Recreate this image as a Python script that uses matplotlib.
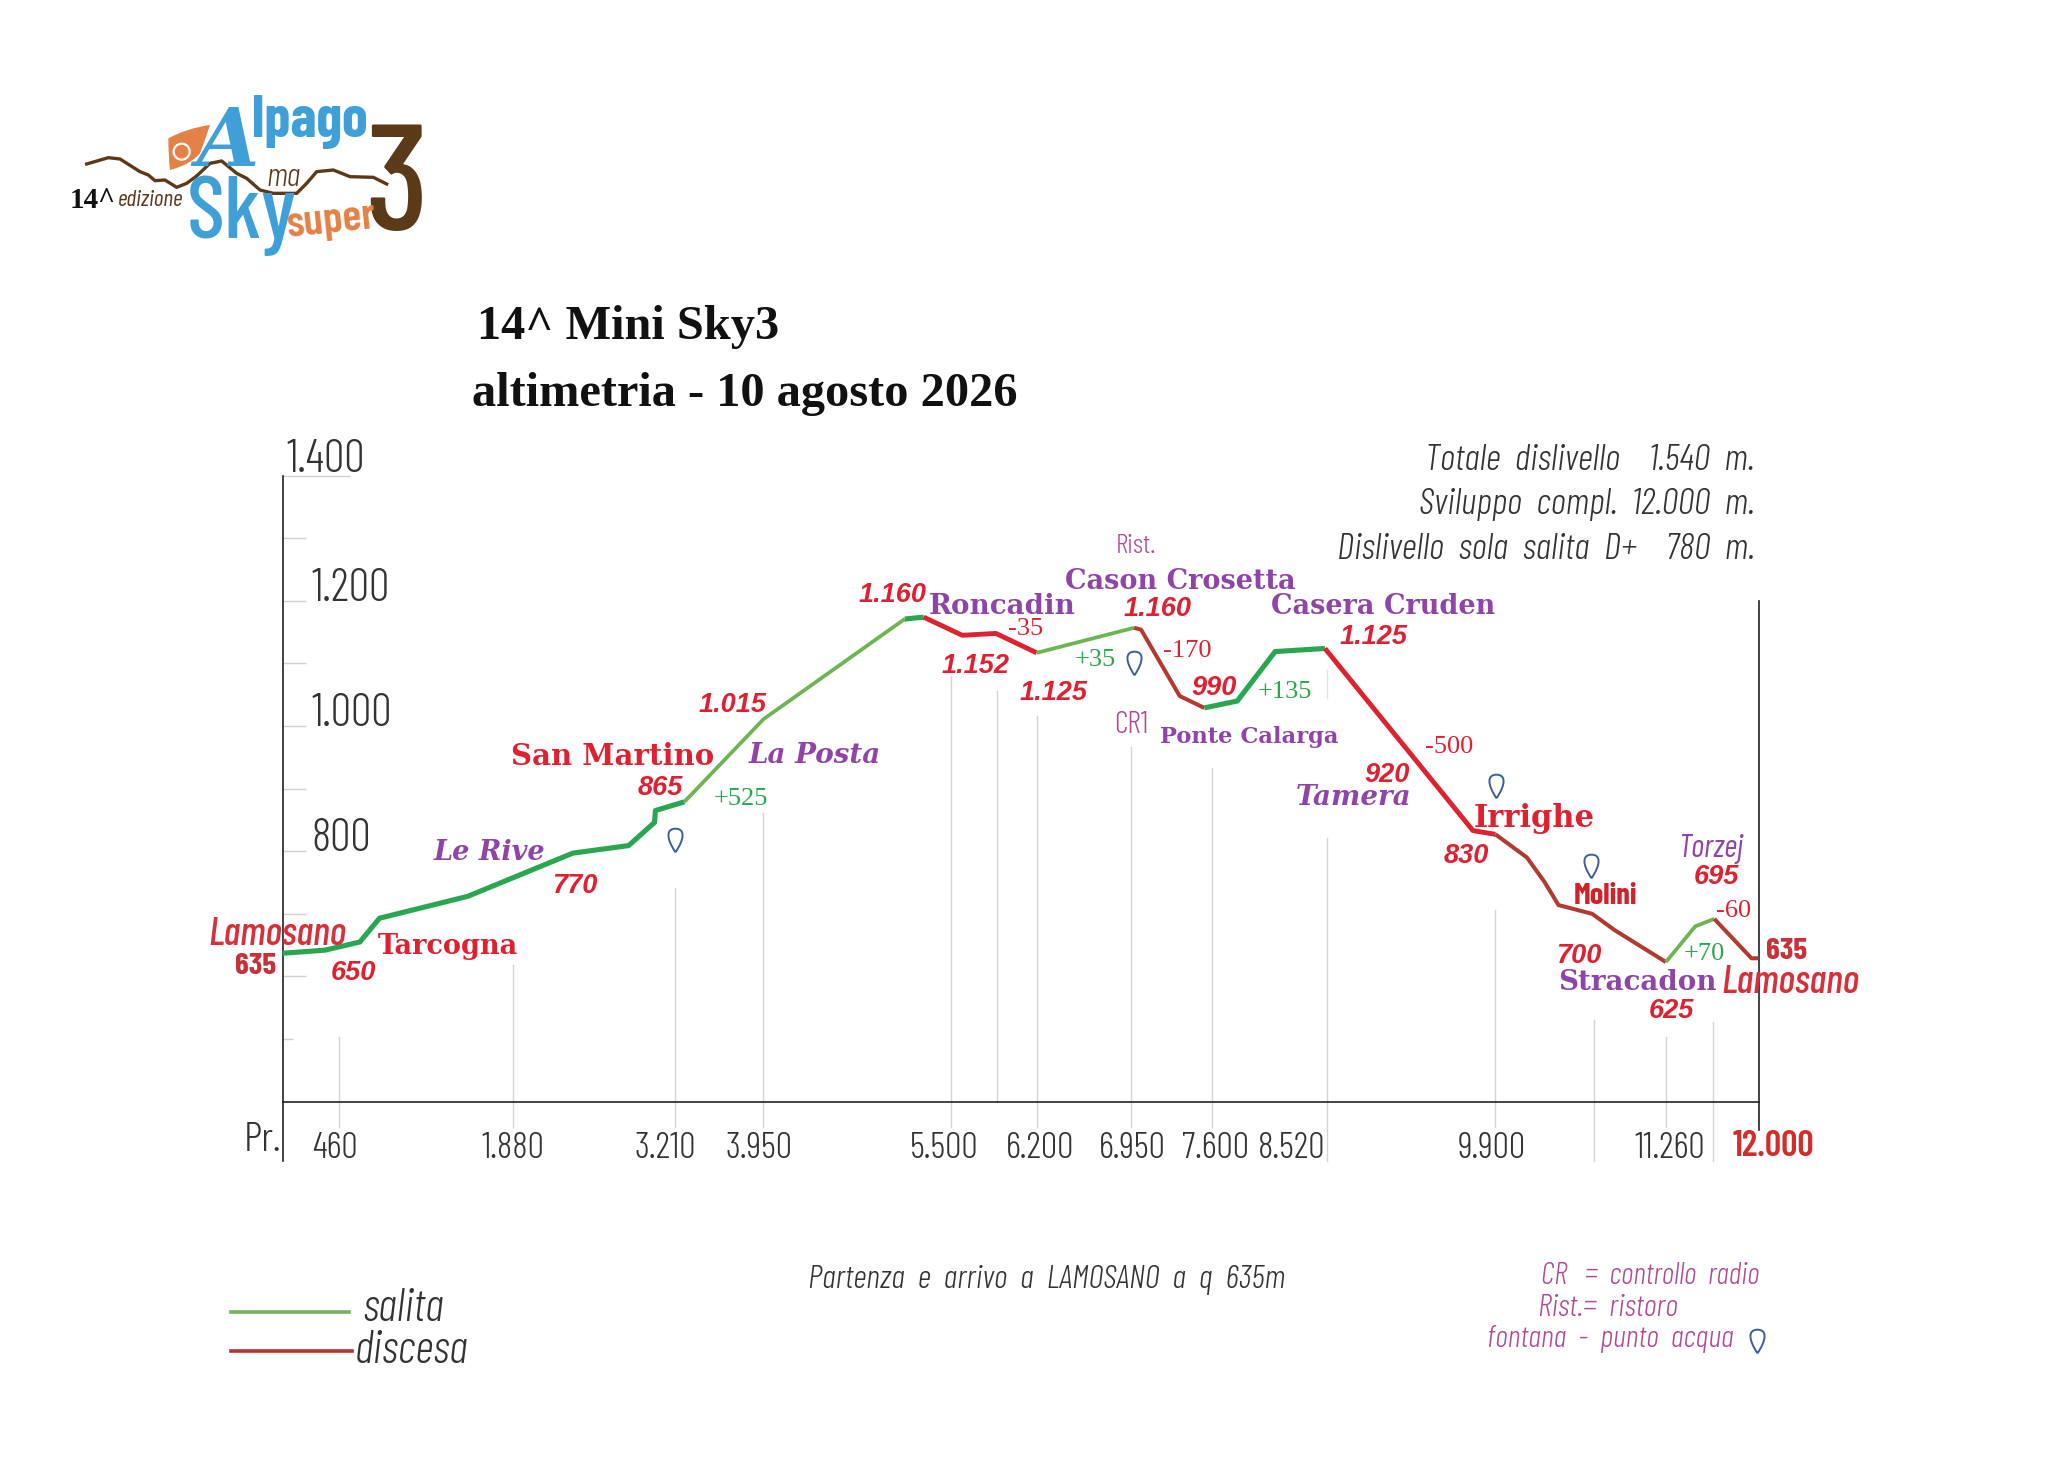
import matplotlib
matplotlib.use("Agg")
import matplotlib.pyplot as plt
from matplotlib.transforms import Affine2D
from matplotlib.path import Path
from matplotlib.patches import PathPatch, Circle

W, H = 2067, 1457
S = W / 1568
NARROW = ["Barlow Condensed", "Open Sans", "DejaVu Sans"]
SERIF = "DejaVu Serif"
TITLE = "Liberation Serif"

# ---------- data ----------
distance = [0, 345, 628, 788, 1506, 2360, 2813, 3024, 3031, 3267, 3910, 5058, 5212, 5526, 5800, 6131,
            6923, 6980, 7294, 7494, 7762, 8070, 8475, 9678, 9861, 10117, 10260, 10374, 10648, 10830,
            11247, 11486, 11640, 11943, 12000]
elevation = [637, 642, 655, 693, 728, 797, 809, 846, 865, 879, 1011, 1171, 1174, 1145, 1148, 1117,
             1157, 1154, 1048, 1029, 1040, 1119, 1124, 833, 827, 790, 751, 714, 700, 674,
             623, 680, 692, 629, 629]
# (start index, end index, style)
runs = [(0, 9, "up_strong"), (9, 11, "up_light"), (11, 12, "up_strong"), (12, 15, "down_strong"),
        (15, 16, "up_light"), (16, 19, "down_dark"), (19, 22, "up_strong"), (22, 24, "down_strong"),
        (24, 30, "down_dark"), (30, 32, "up_light"), (32, 34, "down_dark")]
styles = {"up_strong": ("#2BA650", 3.7), "up_light": ("#6DB552", 2.7),
          "down_strong": ("#DD2230", 3.5), "down_dark": ("#B23A33", 2.9)}

guide_x = [461, 1870, 3194, 3910, 5435, 5806, 6131, 6895, 7557, 8492, 9861, 10659, 11247, 11634]
guide_top = [503, 619, 742, 861, 1080, 1056, 1016, 966, 933, 821, 706, 531, 503, 527]
guide_bottom = [360, 360, 360, 360, 360, 400, 360, 360, 360, 305, 360, 305, 360, 305]

ytick_vals = [400, 500, 600, 700, 800, 900, 1000, 1100, 1200, 1300, 1400]
ylabels = {800: "800", 1000: "1.000", 1200: "1.200", 1400: "1.400"}
xtick_pos = [425, 1872, 3115, 3876, 5376, 6158, 6909, 7584, 8206, 9835, 11282]
xtick_labels = ["460", "1.880", "3.210", "3.950", "5.500", "6.200", "6.950", "7.600", "8.520", "9.900", "11.260"]
xlast_label = "12.000"

red, purple, pink, green = "#DF2030", "#8E44A8", "#B04A94", "#2BA650"

values = [("650", 268, 736), ("770", 436, 670), ("865", 501, 596), ("1.015", 556, 533), ("1.160", 677, 449),
          ("1.152", 740, 503), ("1.125", 799, 524), ("1.160", 878, 460), ("990", 921, 520), ("1.125", 1042, 481),
          ("920", 1052, 586), ("830", 1112, 647), ("700", 1198, 723), ("625", 1268, 765), ("695", 1302, 663)]
deltas = [("+525", 562, 604, green), ("-35", 778, 475, red), ("+35", 831, 499, green), ("-170", 901, 492, red),
          ("+135", 975, 523, green), ("-500", 1099, 565, red), ("-60", 1315, 689, red), ("+70", 1293, 722, green)]
places = [("San Martino", 465, 572, red, "normal", 21), ("Tarcogna", 340, 716, red, "normal", 19.5),
          ("Irrighe", 1164, 619, red, "normal", 22),
          ("Le Rive", 371, 645, purple, "italic", 19.5), ("La Posta", 618, 571, purple, "italic", 20),
          ("Tamera", 1027, 603, purple, "italic", 20),
          ("Roncadin", 760, 458, purple, "normal", 20), ("Cason Crosetta", 895, 439, purple, "normal", 19.5),
          ("Casera Cruden", 1049, 458, purple, "normal", 19.5), ("Ponte Calarga", 948, 557, purple, "normal", 16.3),
          ("Stracadon", 1242, 743, purple, "normal", 20)]
pins_x = [512, 860, 1135, 1207, 1333]
pins_y = [637, 503, 596, 657, 1017]

# ---------- figure ----------
fig = plt.figure(figsize=(W / 100, H / 100), dpi=100, facecolor="white")
x0, x1, ytop, ybot = 282.6, 1758.5, 475.7, 1101.6
ax = fig.add_axes([x0 / W, 1 - ybot / H, (x1 - x0) / W, (ybot - ytop) / H])
ax.patch.set_alpha(0)
for s in ("top", "right"):
    ax.spines[s].set_visible(False)
for s in ("left", "bottom"):
    ax.spines[s].set_color("#222222")
    ax.spines[s].set_linewidth(1.2)

PX = Affine2D().scale(S, -S).translate(0, H)      # preview-scale coordinates
LG = Affine2D().scale(1 / 3, -1 / 3).translate(40, H - 60)  # logo crop coordinates


def T(x, y, s, size, color="#222222", family=NARROW, ha="center", va="center", tr=PX, **kw):
    if family is NARROW:
        kw.setdefault("fontweight", 300)
    if tr is PX:
        y = y + 2
    return fig.text(x, y, s, fontsize=size, color=color, family=family, ha=ha, va=va, transform=tr, **kw)


# guides
for gx, t, b in zip(guide_x, guide_top, guide_bottom):
    ax.plot([gx, gx], [b, t], color="#D4D4D4", lw=1.0, clip_on=False, zorder=1)
ax.plot([0, 0], [305, 400], color="#222222", lw=1.2, clip_on=False)
ax.plot([12000, 12000], [355, 1200], color="#222222", lw=1.2, clip_on=False, zorder=2)
ax.plot([8492, 8492], [1045, 1090], color="#E4E4E4", lw=1.0)

# y ticks
ax.set_yticks(ytick_vals)
ax.set_yticklabels([])
ax.tick_params(axis="y", direction="in", length=16.5, color="#D0D0D0", width=1)
for v, tick in zip(ytick_vals, ax.yaxis.get_major_ticks()):
    if v == 500:
        tick.tick1line.set_markersize(7)
    if v == 1400:
        tick.tick1line.set_markersize(48)
    if v == 400:
        tick.tick1line.set_markersize(0)
for v, lab in ylabels.items():
    xx, yy = (4, -5) if v == 1400 else (29, -9)
    ax.annotate(lab, (0, v), xytext=(xx, yy), textcoords="offset pixels", fontsize=33, family=NARROW,
                color="#333333", va="bottom", ha="left", fontweight=300)

# x ticks
ax.set_xticks(xtick_pos, xtick_labels, family=NARROW, fontsize=26.5, color="#333333", fontweight=300)
ax.tick_params(axis="x", length=0, pad=22)
ax.set_xlim(0, 12000)
ax.set_ylim(400, 1400)
T(1345, 868, xlast_label, 26, "#D42B2B", NARROW, fontweight=600)

# profile
for a, b, st in runs:
    c, lw = styles[st]
    ax.plot(distance[a:b + 1], elevation[a:b + 1], color=c, lw=lw, solid_capstyle="butt",
            solid_joinstyle="round", clip_on=False, zorder=4)

# labels
for s, x, y in values:
    T(x, y, s, 19.5, red, "Liberation Sans", fontweight="bold", fontstyle="italic")
for s, x, y, c in deltas:
    T(x, y, s, 19, c, TITLE)
for s, x, y, c, st, sz in places:
    T(x, y, s, sz, c, SERIF, fontweight="bold", fontstyle=st)
T(210, 707, "Lamosano", 28.5, "#D8303A", NARROW, fontstyle="italic", fontweight=500)
T(1358, 744, "Lamosano", 28.5, "#D8303A", NARROW, fontstyle="italic", fontweight=500)
T(194, 731, "635", 22.5, "#C8303A", NARROW, fontweight=700)
T(1355, 720, "635", 22.5, "#C8303A", NARROW, fontweight=700)
T(1218, 678, "Molini", 22, "#D42028", NARROW, fontweight=700)
T(1298, 642, "Torzej", 23, purple, NARROW, fontstyle="italic", fontweight=400)
T(862, 412, "Rist.", 20, pink, NARROW)
T(858, 548, "CR1", 22, pink, NARROW)
T(199, 863, "Pr.", 30, "#333333", NARROW)

# pins
pin = Path([(0, -1.0), (-0.8, 0.2), (-0.8, 1.0), (0, 1.0), (0.8, 1.0), (0.8, 0.2), (0, -1.0)],
           [Path.MOVETO, Path.CURVE4, Path.CURVE4, Path.CURVE4, Path.CURVE4, Path.CURVE4, Path.CURVE4])
for px_, py_ in zip(pins_x, pins_y):
    fig.add_artist(plt.Line2D([px_], [py_], marker=pin, markersize=17, mfc="none", mec="#3C5F9C", mew=1.4,
                              transform=PX, ls="none"))

# titles and notes
T(362, 246, "14^ Mini Sky3", 34.8, "#111111", TITLE, ha="left", fontweight="bold")
T(358, 297, "altimetria - 10 agosto 2026", 34.8, "#111111", TITLE, ha="left", fontweight="bold")
T(1331, 347, "Totale  dislivello    1.540  m.", 27, "#333333", NARROW, ha="right", fontstyle="italic")
T(1331, 381, "Sviluppo  compl.  12.000  m.", 27, "#333333", NARROW, ha="right", fontstyle="italic")
T(1331, 415, "Dislivello  sola  salita  D+    780  m.", 27, "#333333", NARROW, ha="right", fontstyle="italic")
T(794, 969, "Partenza  e  arrivo  a  LAMOSANO  a  q  635m", 24, "#333333", NARROW, fontstyle="italic")
T(1169, 966, "CR   =  controllo  radio", 22, pink, NARROW, ha="left", fontstyle="italic")
T(1167, 990, "Rist.=  ristoro", 23, pink, NARROW, ha="left", fontstyle="italic")
T(1128, 1014, "fontana  -  punto  acqua", 22.5, pink, NARROW, ha="left", fontstyle="italic")

# legend
fig.add_artist(plt.Line2D([175, 265], [995, 995], color="#74B35A", lw=2.6, transform=PX))
fig.add_artist(plt.Line2D([175, 267], [1025, 1025], color="#B8332F", lw=2.6, transform=PX))
T(275, 991, "salita", 33, "#333333", NARROW, ha="left", fontstyle="italic")
T(269, 1023, "discesa", 33, "#333333", NARROW, ha="left", fontstyle="italic")

# logo
blue, orange, brown = "#3FA0D8", "#E38146", "#5B3A1A"
drop = Path([(510, 195), (440, 205), (385, 235), (385, 285), (390, 330), (450, 315), (480, 280), (495, 240), (510, 195)],
            [Path.MOVETO, Path.CURVE3, Path.CURVE3, Path.CURVE3, Path.CURVE3, Path.CURVE3, Path.CURVE3, Path.CURVE3, Path.CURVE3])
fig.add_artist(PathPatch(drop, fc=orange, ec="none", transform=LG))
fig.add_artist(Circle((425, 275), 24, fc="none", ec="white", lw=1.6, transform=LG))
T(470, 318, "A", 58, blue, SERIF, ha="left", va="baseline", tr=LG, fontweight="bold", fontstyle="italic")
T(635, 232, "lpago", 42, blue, NARROW, ha="left", va="baseline", tr=LG, fontweight=700)
T(440, 535, "Sky", 64, blue, NARROW, ha="left", va="baseline", tr=LG, fontweight=500)
T(975, 510, "3", 108, brown, NARROW, ha="left", va="baseline", tr=LG, fontweight=500)
T(735, 532, "super", 32, orange, NARROW, ha="left", va="baseline", tr=LG, fontweight=600, rotation=6)
T(730, 355, "ma", 24, brown, NARROW, tr=LG, fontstyle="italic")
T(88, 445, "14^", 21, "#111111", TITLE, ha="left", va="baseline", tr=LG, fontweight="bold")
T(235, 437, "edizione", 17, brown, NARROW, ha="left", va="baseline", tr=LG, fontstyle="italic", fontweight=400)
ridge_x = [140, 205, 240, 300, 325, 345, 375, 410, 440, 470, 510, 545, 590, 620, 660, 700, 770, 800, 830, 880, 930, 1000, 1040]
ridge_y = [312, 293, 297, 335, 345, 362, 360, 382, 370, 348, 310, 303, 340, 355, 390, 400, 400, 370, 335, 330, 350, 352, 372]
fig.add_artist(plt.Line2D(ridge_x, ridge_y, color=brown, lw=2.4, transform=LG, solid_joinstyle="round"))

fig.savefig("out.png", dpi=100, facecolor="white")
